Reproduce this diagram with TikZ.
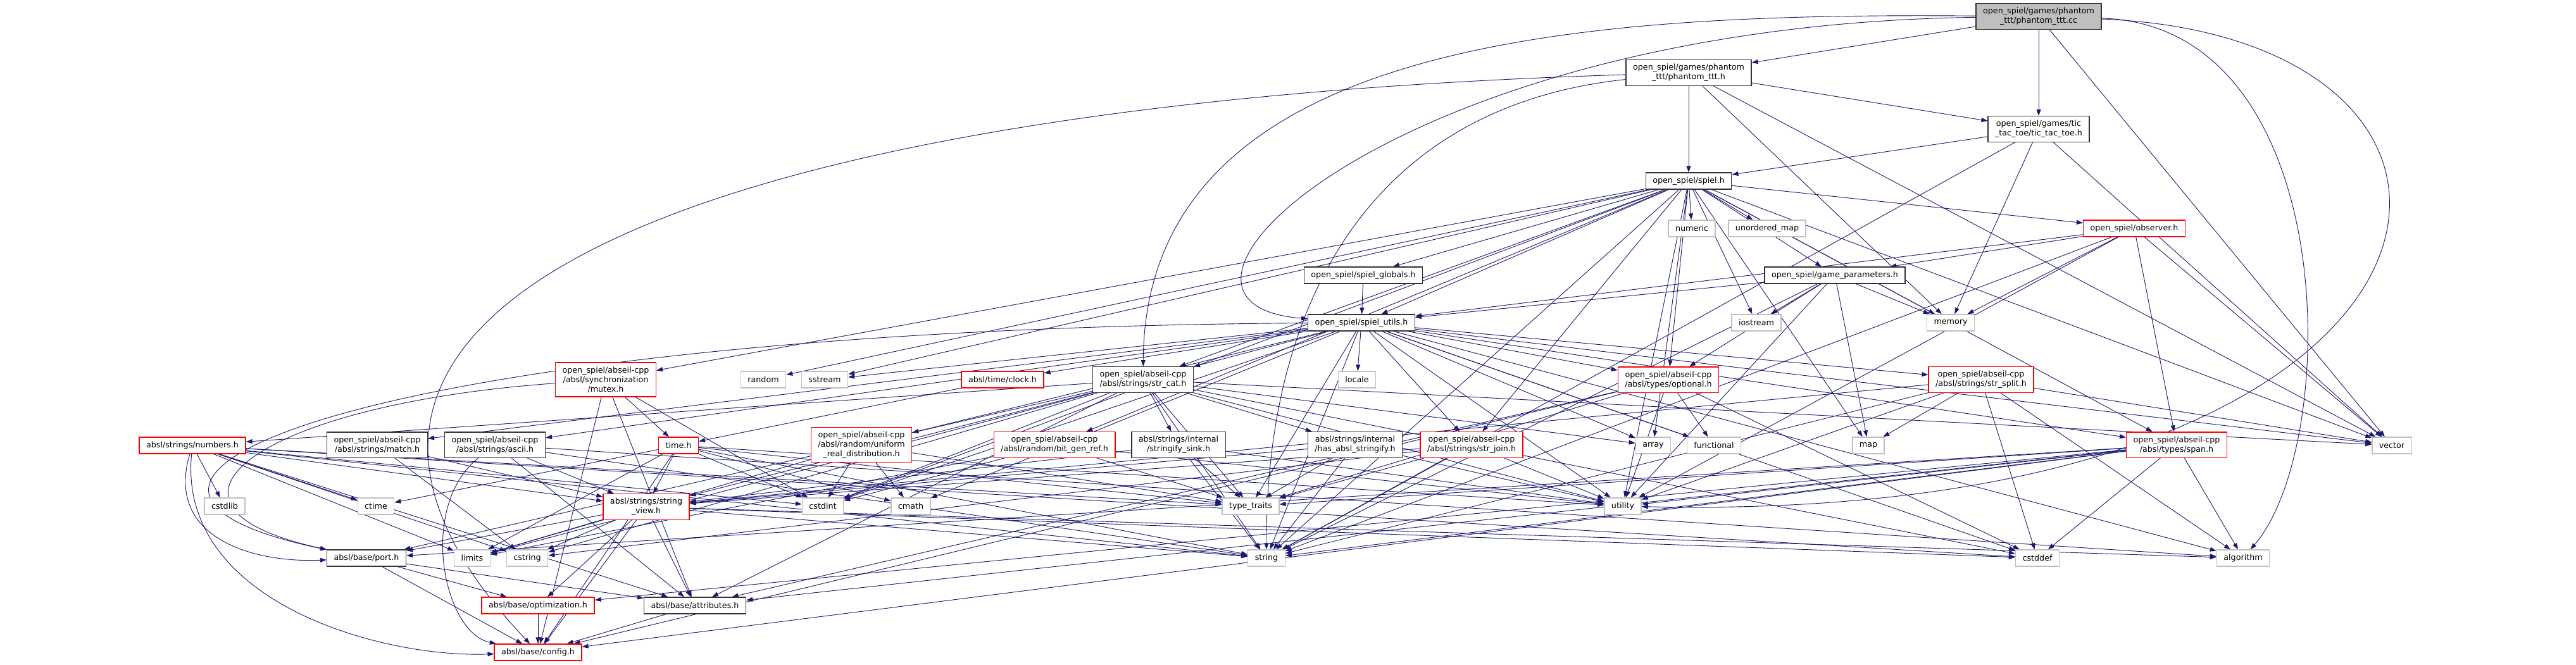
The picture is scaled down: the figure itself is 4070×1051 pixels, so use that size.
\documentclass[tikz,border=0pt]{standalone}
\usepackage{fontspec}
\setmainfont{DejaVu Sans}
\usepackage{tikz}
\usetikzlibrary{arrows.meta}
\definecolor{EdgeBlue}{HTML}{191970}
\definecolor{NodeGrey}{HTML}{BFBFBF}
\pgfdeclarelayer{edges}
\pgfsetlayers{edges,main}

\begin{document}
\begin{tikzpicture}[
  x=1pt,y=-1pt,
  font=\fontsize{12.7}{15}\selectfont,
  box/.style={draw=black!80,line width=1.3pt,fill=white,inner xsep=11pt,inner ysep=6.5pt,minimum height=26pt,align=center},
  redbox/.style={box,draw=red},
  sysbox/.style={box,draw=NodeGrey},
  arr/.style={-{Triangle[length=10pt,width=7pt]},EdgeBlue,line width=0.9pt}
]
  \useasboundingbox (0,0) rectangle (4070,1051);
  % top of the graph
  \node[box,fill=NodeGrey] (cc) at (3221,26) {open\_spiel/games/phantom\\\_ttt/phantom\_ttt.cc};
  \node[box] (pttt) at (2668,115) {open\_spiel/games/phantom\\\_ttt/phantom\_ttt.h};
  \node[box] (ttt) at (3221,204) {open\_spiel/games/tic\\\_tac\_toe/tic\_tac\_toe.h};
  \node[box] (spiel) at (2668,286) {open\_spiel/spiel.h};
  \node[sysbox] (numeric) at (2673,361) {numeric};
  \node[sysbox] (umap) at (2792,361) {unordered\_map};
  \node[redbox] (observer) at (3372,361) {open\_spiel/observer.h};
  \node[box] (globals) at (2154,435) {open\_spiel/spiel\_globals.h};
  \node[box] (gparams) at (2899,435) {open\_spiel/game\_parameters.h};
  \node[box] (sutils) at (2151,510) {open\_spiel/spiel\_utils.h};
  \node[sysbox] (iostream) at (2775,510) {iostream};
  \node[sysbox] (memory) at (3082,510) {memory};
  % abseil level
  \node[redbox] (mutex) at (957,600) {open\_spiel/abseil-cpp\\/absl/synchronization\\/mutex.h};
  \node[sysbox] (random) at (1206,600) {random};
  \node[sysbox] (sstream) at (1303,600) {sstream};
  \node[redbox] (clock) at (1584,600) {absl/time/clock.h};
  \node[box] (strcat) at (1806,600) {open\_spiel/abseil-cpp\\/absl/strings/str\_cat.h};
  \node[sysbox] (locale) at (2144,600) {locale};
  \node[redbox] (optional) at (2636,600) {open\_spiel/abseil-cpp\\/absl/types/optional.h};
  \node[redbox] (strsplit) at (3130,600) {open\_spiel/abseil-cpp\\/absl/strings/str\_split.h};
  \node[redbox] (numbers) at (304,704) {absl/strings/numbers.h};
  \node[box] (match) at (596,703) {open\_spiel/abseil-cpp\\/absl/strings/match.h};
  \node[box] (ascii) at (782,703) {open\_spiel/abseil-cpp\\/absl/strings/ascii.h};
  \node[redbox] (timeh) at (1072,704) {time.h};
  \node[redbox] (uniform) at (1361,703) {open\_spiel/abseil-cpp\\/absl/random/uniform\\\_real\_distribution.h};
  \node[redbox] (bitgen) at (1666,703) {open\_spiel/abseil-cpp\\/absl/random/bit\_gen\_ref.h};
  \node[box] (sink) at (1862,703) {absl/strings/internal\\/stringify\_sink.h};
  \node[box] (hasstr) at (2141,703) {absl/strings/internal\\/has\_absl\_stringify.h};
  \node[redbox] (strjoin) at (2325,703) {open\_spiel/abseil-cpp\\/absl/strings/str\_join.h};
  \node[sysbox] (array) at (2612,704) {array};
  \node[sysbox] (functional) at (2708,704) {functional};
  \node[sysbox] (map) at (2952,704) {map};
  \node[redbox] (span) at (3439,703) {open\_spiel/abseil-cpp\\/absl/types/span.h};
  \node[sysbox] (vector) at (3779,704) {vector};
  % std headers and absl/base
  \node[sysbox] (cstdlib) at (355,800) {cstdlib};
  \node[sysbox] (ctime) at (594,800) {ctime};
  \node[redbox] (sview) at (1021,801) {absl/strings/string\\\_view.h};
  \node[sysbox] (cstdint) at (1300,800) {cstdint};
  \node[sysbox] (cmath) at (1439,800) {cmath};
  \node[sysbox] (typetraits) at (1976,800) {type\_traits};
  \node[sysbox] (utility) at (2564,800) {utility};
  \node[box] (port) at (579,882) {absl/base/port.h};
  \node[sysbox] (limits) at (746,882) {limits};
  \node[sysbox] (cstring) at (833,882) {cstring};
  \node[sysbox] (string) at (2001,882) {string};
  \node[sysbox] (cstddef) at (3219,882) {cstddef};
  \node[sysbox] (algorithm) at (3544,882) {algorithm};
  \node[redbox] (optim) at (850,957) {absl/base/optimization.h};
  \node[box] (attrib) at (1098,957) {absl/base/attributes.h};
  \node[redbox] (config) at (850,1031) {absl/base/config.h};

  \begin{pgfonlayer}{edges}
  % phantom_ttt.cc
  \draw[arr] (cc)--(pttt);
  \draw[arr] (cc)--(ttt);
  \draw[arr] (cc) .. controls (2500,20) and (1810,60) .. (strcat);
  \draw[arr] (cc) .. controls (2200,40) and (1750,480) .. (sutils);
  \draw[arr] (cc)--(vector);
  \draw[arr] (cc) .. controls (3700,40) and (3700,700) .. (algorithm);
  \draw[arr] (cc) .. controls (4060,60) and (3950,830) .. (utility);
  % phantom_ttt.h
  \draw[arr] (pttt)--(ttt);
  \draw[arr] (pttt)--(spiel);
  \draw[arr] (pttt)--(memory);
  \draw[arr] (pttt)--(vector);
  \draw[arr] (pttt) .. controls (2150,170) and (2000,500) .. (string);
  \draw[arr] (pttt) .. controls (1200,160) and (300,450) .. (config);
  % tic_tac_toe.h
  \draw[arr] (ttt)--(spiel);
  \draw[arr] (ttt)--(memory);
  \draw[arr] (ttt)--(vector);
  \draw[arr] (ttt)--(string);
  % spiel.h
  \draw[arr] (spiel)--(observer);
  \draw[arr] (spiel)--(numeric);
  \draw[arr] (spiel)--(umap);
  \draw[arr] (spiel)--(globals);
  \draw[arr] (spiel)--(gparams);
  \draw[arr] (spiel)--(sutils);
  \draw[arr] (spiel)--(iostream);
  \draw[arr] (spiel)--(memory);
  \draw[arr] (spiel)--(mutex);
  \draw[arr] (spiel)--(random);
  \draw[arr] (spiel)--(sstream);
  \draw[arr] (spiel)--(strcat);
  \draw[arr] (spiel)--(optional);
  \draw[arr] (spiel)--(strjoin);
  \draw[arr] (spiel)--(bitgen);
  \draw[arr] (spiel)--(span);
  \draw[arr] (spiel)--(array);
  \draw[arr] (spiel)--(map);
  \draw[arr] (spiel)--(vector);
  \draw[arr] (spiel)--(string);
  \draw[arr] (spiel)--(utility);
  \draw[arr] (spiel)--(cstdint);
  % spiel_globals.h, observer.h, game_parameters.h
  \draw[arr] (globals)--(sutils);
  \draw[arr] (observer)--(gparams);
  \draw[arr] (observer)--(sutils);
  \draw[arr] (observer)--(memory);
  \draw[arr] (observer)--(span);
  \draw[arr] (observer)--(vector);
  \draw[arr] (observer)--(string);
  \draw[arr] (observer)--(utility);
  \draw[arr] (gparams)--(sutils);
  \draw[arr] (gparams)--(iostream);
  \draw[arr] (gparams)--(memory);
  \draw[arr] (gparams)--(map);
  \draw[arr] (gparams)--(optional);
  \draw[arr] (gparams)--(string);
  \draw[arr] (gparams)--(utility);
  % spiel_utils.h
  \draw[arr] (sutils)--(sstream);
  \draw[arr] (sutils)--(clock);
  \draw[arr] (sutils)--(strcat);
  \draw[arr] (sutils)--(locale);
  \draw[arr] (sutils)--(optional);
  \draw[arr] (sutils)--(strsplit);
  \draw[arr] (sutils)--(strjoin);
  \draw[arr] (sutils)--(span);
  \draw[arr] (sutils)--(match);
  \draw[arr] (sutils)--(ascii);
  \draw[arr] (sutils)--(uniform);
  \draw[arr] (sutils)--(array);
  \draw[arr] (sutils)--(functional);
  \draw[arr] (sutils)--(vector);
  \draw[arr] (sutils)--(string);
  \draw[arr] (sutils)--(typetraits);
  \draw[arr] (sutils)--(utility);
  \draw[arr] (sutils)--(cstdint);
  \draw[arr] (sutils)--(cmath);
  \draw[arr] (sutils)--(cstddef);
  \draw[arr] (sutils)--(algorithm);
  \draw[arr] (sutils) .. controls (600,520) and (0,760) .. (port);
  % mutex.h, clock.h
  \draw[arr] (mutex)--(timeh);
  \draw[arr] (mutex)--(cstdint);
  \draw[arr] (mutex) .. controls (400,640) and (200,800) .. (port);
  \draw[arr] (mutex)--(attrib);
  \draw[arr] (mutex)--(config);
  \draw[arr] (clock)--(timeh);
  % str_cat.h
  \draw[arr] (strcat)--(numbers);
  \draw[arr] (strcat)--(sview);
  \draw[arr] (strcat)--(port);
  \draw[arr] (strcat)--(attrib);
  \draw[arr] (strcat)--(sink);
  \draw[arr] (strcat)--(hasstr);
  \draw[arr] (strcat)--(array);
  \draw[arr] (strcat)--(cstdint);
  \draw[arr] (strcat)--(cstddef);
  \draw[arr] (strcat)--(string);
  \draw[arr] (strcat)--(typetraits);
  \draw[arr] (strcat)--(utility);
  \draw[arr] (strcat)--(vector);
  \draw[arr] (strcat)--(limits);
  \draw[arr] (strcat)--(cstring);
  % numbers.h
  \draw[arr] (numbers)--(cstdlib);
  \draw[arr] (numbers)--(ctime);
  \draw[arr] (numbers)--(sview);
  \draw[arr] (numbers) .. controls (260,850) and (400,890) .. (port);
  \draw[arr] (numbers) .. controls (280,950) and (600,1040) .. (config);
  \draw[arr] (numbers)--(limits);
  \draw[arr] (numbers)--(cstring);
  \draw[arr] (numbers)--(cstdint);
  \draw[arr] (numbers)--(cstddef);
  \draw[arr] (numbers)--(string);
  \draw[arr] (numbers)--(typetraits);
  \draw[arr] (numbers)--(attrib);
  % match.h, ascii.h, time.h
  \draw[arr] (match)--(cstring);
  \draw[arr] (match)--(sview);
  \draw[arr] (ascii)--(sview);
  \draw[arr] (ascii) .. controls (660,800) and (700,1000) .. (config);
  \draw[arr] (ascii)--(attrib);
  \draw[arr] (ascii)--(string);
  \draw[arr] (ascii)--(algorithm);
  \draw[arr] (timeh)--(ctime);
  \draw[arr] (timeh)--(sview);
  \draw[arr] (timeh)--(limits);
  \draw[arr] (timeh)--(cstdint);
  \draw[arr] (timeh)--(cmath);
  \draw[arr] (timeh)--(string);
  \draw[arr] (timeh)--(typetraits);
  \draw[arr] (timeh)--(utility);
  \draw[arr] (timeh)--(config);
  % random headers
  \draw[arr] (uniform)--(cstdint);
  \draw[arr] (uniform)--(cmath);
  \draw[arr] (uniform)--(limits);
  \draw[arr] (uniform)--(typetraits);
  \draw[arr] (bitgen)--(cstdint);
  \draw[arr] (bitgen)--(limits);
  \draw[arr] (bitgen)--(typetraits);
  \draw[arr] (bitgen)--(utility);
  % strings internals and str_join.h
  \draw[arr] (sink)--(sview);
  \draw[arr] (sink)--(string);
  \draw[arr] (sink)--(typetraits);
  \draw[arr] (sink)--(utility);
  \draw[arr] (hasstr)--(sview);
  \draw[arr] (hasstr)--(string);
  \draw[arr] (hasstr)--(typetraits);
  \draw[arr] (hasstr)--(utility);
  \draw[arr] (strjoin)--(sview);
  \draw[arr] (strjoin)--(cstring);
  \draw[arr] (strjoin)--(string);
  \draw[arr] (strjoin)--(typetraits);
  \draw[arr] (strjoin)--(utility);
  % optional.h, str_split.h, span.h
  \draw[arr] (optional)--(functional);
  \draw[arr] (optional)--(typetraits);
  \draw[arr] (optional)--(utility);
  \draw[arr] (optional)--(cstddef);
  \draw[arr] (optional)--(attrib);
  \draw[arr] (optional)--(config);
  \draw[arr] (strsplit)--(sview);
  \draw[arr] (strsplit)--(map);
  \draw[arr] (strsplit)--(vector);
  \draw[arr] (strsplit)--(string);
  \draw[arr] (strsplit)--(utility);
  \draw[arr] (strsplit)--(cstddef);
  \draw[arr] (strsplit)--(algorithm);
  \draw[arr] (span)--(port);
  \draw[arr] (span)--(optim);
  \draw[arr] (span)--(attrib);
  \draw[arr] (span)--(config);
  \draw[arr] (span)--(cstddef);
  \draw[arr] (span)--(algorithm);
  \draw[arr] (span)--(typetraits);
  \draw[arr] (span)--(utility);
  \draw[arr] (span)--(string);
  % string_view.h and absl/base
  \draw[arr] (sview)--(port);
  \draw[arr] (sview)--(limits);
  \draw[arr] (sview)--(cstring);
  \draw[arr] (sview)--(optim);
  \draw[arr] (sview)--(attrib);
  \draw[arr] (sview)--(config);
  \draw[arr] (sview)--(string);
  \draw[arr] (sview)--(cstddef);
  \draw[arr] (sview)--(algorithm);
  \draw[arr] (port)--(attrib);
  \draw[arr] (port)--(config);
  \draw[arr] (port)--(optim);
  \draw[arr] (optim)--(config);
  \draw[arr] (attrib)--(config);
  \end{pgfonlayer}
\end{tikzpicture}
\end{document}
